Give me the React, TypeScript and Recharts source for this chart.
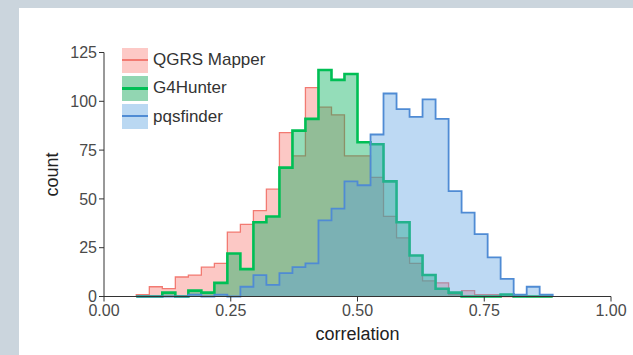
import { Area, AreaChart, XAxis, YAxis } from "recharts";

// shared bin edges of the three histograms (left edge of each bin, last = right edge)
const binEdges = [
  0.0637, 0.0894, 0.115, 0.1407, 0.1664, 0.192, 0.2177, 0.2433, 0.269, 0.2947,
  0.3203, 0.346, 0.3717, 0.3973, 0.423, 0.4487, 0.4743, 0.5, 0.5257, 0.5513,
  0.577, 0.6027, 0.6283, 0.654, 0.6797, 0.7053, 0.731, 0.7567, 0.7823, 0.808,
  0.8337, 0.8593, 0.885,
];

const qgrsCounts = [
  1, 5, 4, 10, 11, 15, 17, 33, 37, 44, 55, 84, 72, 107, 97, 93, 72, 72, 61, 41,
  30, 17, 8, 7, 1, 3, 1, 1, 0, 1, 0, 0,
];
const g4Counts = [
  0, 0, 2, 0, 3, 2, 7, 22, 14, 38, 41, 66, 85, 91, 116, 111, 114, 79, 78, 59,
  38, 21, 11, 4, 2, 0, 0, 0, 1, 0, 0, 0,
];
const pqsCounts = [
  0, 0, 0, 0, 1, 0, 1, 0, 5, 11, 6, 12, 15, 17, 39, 45, 59, 57, 83, 104, 96,
  92, 101, 91, 54, 43, 32, 20, 9, 1, 5, 1,
];

const xTicks = [0, 0.25, 0.5, 0.75, 1];
const yTicks = [0, 25, 50, 75, 100, 125];

const SERIES = [
  { key: "qgrs", name: "QGRS Mapper", stroke: "#f27a72", fill: "#f8766d", op: 0.4, sw: 1.3, swatch: "#fdc9c6" },
  { key: "g4", name: "G4Hunter", stroke: "#00bf55", fill: "#00ad58", op: 0.42, sw: 2.6, swatch: "#92d6b2" },
  { key: "pqs", name: "pqsfinder", stroke: "#4f8bd4", fill: "#5aa0e0", op: 0.4, sw: 1.8, swatch: "#bad8f2" },
];

const FONT = '"Liberation Sans", Arial, sans-serif';

const data = [
  { x: binEdges[0], qgrs: 0, g4: 0, pqs: 0 },
  ...binEdges.map((x, i) => ({
    x,
    qgrs: qgrsCounts[i] ?? 0,
    g4: g4Counts[i] ?? 0,
    pqs: pqsCounts[i] ?? 0,
  })),
];

function LegendBox() {
  return (
    <div style={{ position: "absolute", left: 122, top: 47.5, fontFamily: FONT }}>
      {SERIES.map((s) => (
        <div key={s.key} style={{ display: "flex", alignItems: "center", height: 25, marginBottom: 3.3 }}>
          <div style={{ position: "relative", width: 26, height: 25, background: s.swatch }}>
            <div
              style={{
                position: "absolute",
                left: 0,
                right: 0,
                top: 11,
                height: s.sw > 2 ? 3 : 2,
                background: s.stroke,
              }}
            />
          </div>
          <span style={{ marginLeft: 5, fontSize: 17, color: "#333" }}>{s.name}</span>
        </div>
      ))}
    </div>
  );
}

export default function App() {
  return (
    <div style={{ position: "absolute", left: 0, top: 0, width: 633, height: 355, background: "#cbd5dd" }}>
      <div style={{ position: "absolute", left: 19, top: 8, width: 614, height: 347, background: "#fff" }} />
      <div style={{ position: "absolute", left: 0, top: 0 }}>
        <AreaChart width={633} height={355} data={data} margin={{ top: 52.5, right: 22, bottom: 8.5, left: 0 }}>
          <XAxis
            dataKey="x"
            type="number"
            domain={[0, 1]}
            ticks={xTicks}
            tickFormatter={(v: number) => v.toFixed(2)}
            height={50}
            tickSize={5}
            tickMargin={3}
            stroke="#333"
            tick={{ fontSize: 16, fill: "#4a4a4a", fontFamily: FONT }}
            label={{ value: "correlation", position: "insideBottom", offset: 7, fontSize: 18, fill: "#222", fontFamily: FONT }}
          />
          <YAxis
            type="number"
            domain={[0, 125]}
            ticks={yTicks}
            width={104}
            tickSize={5}
            tickMargin={2}
            stroke="#333"
            tick={{ fontSize: 16, fill: "#4a4a4a", fontFamily: FONT }}
            label={{
              value: "count",
              angle: -90,
              position: "insideLeft",
              offset: 52,
              fontSize: 18,
              fill: "#222",
              fontFamily: FONT,
              style: { textAnchor: "middle" },
            }}
          />
          {SERIES.map((s) => (
            <Area
              key={s.key}
              dataKey={s.key}
              name={s.name}
              type="stepAfter"
              stroke={s.stroke}
              strokeWidth={s.sw}
              fill={s.fill}
              fillOpacity={s.op}
              dot={false}
              activeDot={false}
              isAnimationActive={false}
            />
          ))}
        </AreaChart>
      </div>
      <LegendBox />
    </div>
  );
}
